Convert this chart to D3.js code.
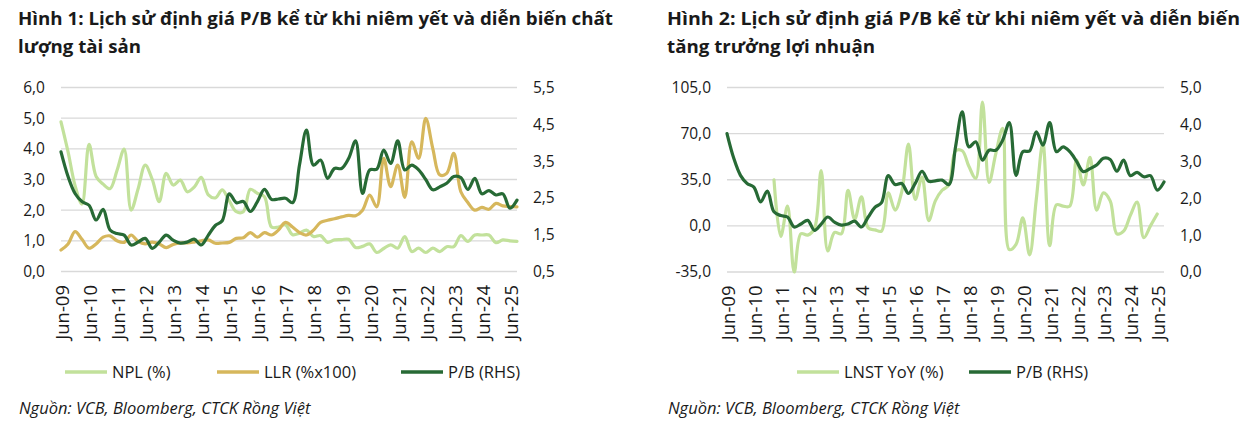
<!DOCTYPE html>
<html>
<head>
<meta charset="utf-8">
<script src="https://cdn.jsdelivr.net/npm/d3@7"></script>
<style>
  body { margin: 0; background: #fff; }
  svg { display: block; }
  text { font-family: "Open Sans", "Noto Sans", sans-serif; fill: #1a1a1a; }
</style>
</head>
<body>
<svg width="1246" height="438"></svg>
<script>
// quarterly observations, Jun-09 .. Sep-25
var quarters = d3.range(66).map(function(i) { return new Date(2009, 5 + 3 * i, 1); });
var yearTicks = d3.range(2009, 2026).map(function(y) { return new Date(y, 5, 1); });

var npl = [4.88, 3.9, 2.8, 2.2, 4.15, 3.1, 2.85, 2.7, 3.3, 3.99, 2.0, 2.7, 3.47, 3.0, 2.28, 3.2,
  2.82, 2.98, 2.6, 2.75, 3.07, 2.5, 2.4, 2.66, 2.3, 1.95, 1.95, 2.68, 2.55, 2.44, 1.45, 1.45,
  1.52, 1.2, 1.25, 1.35, 1.14, 1.17, 0.95, 1.03, 1.04, 1.05, 0.78, 0.82, 0.9, 0.62, 0.75, 0.87,
  0.76, 1.14, 0.65, 0.76, 0.62, 0.76, 0.65, 0.81, 0.81, 1.17, 0.98, 1.19, 1.19, 1.19, 0.94, 1.03,
  1.0, 0.98];

var llr = [0.7, 0.9, 1.3, 1.05, 0.76, 0.9, 1.12, 1.16, 1.0, 0.95, 1.19, 0.98, 0.9, 0.96, 0.9, 0.78,
  0.88, 0.93, 0.93, 0.96, 1.0, 1.03, 0.92, 0.93, 0.95, 1.08, 1.1, 1.27, 1.12, 1.27, 1.19, 1.35,
  1.6, 1.45, 1.27, 1.19, 1.35, 1.6, 1.67, 1.72, 1.78, 1.83, 1.82, 2.0, 2.49, 2.11, 3.69, 2.77,
  3.47, 2.42, 4.23, 3.69, 4.99, 4.01, 3.15, 3.2, 3.85, 2.6, 2.25, 2.0, 2.09, 2.03, 2.22, 2.14,
  2.12, 2.11];

var pb = [3.75, 3.08, 2.62, 2.4, 2.3, 1.9, 2.19, 1.63, 1.53, 1.49, 1.22, 1.3, 1.4, 1.13, 1.3, 1.49,
  1.35, 1.27, 1.3, 1.38, 1.22, 1.49, 1.75, 1.88, 2.61, 2.37, 2.4, 2.13, 2.4, 2.73, 2.46, 2.47,
  2.49, 2.37, 3.4, 4.34, 3.39, 3.53, 3.03, 3.3, 3.3, 3.57, 4.05, 2.62, 3.26, 3.28, 3.8, 3.44,
  4.05, 3.26, 3.39, 3.26, 3.0, 2.72, 2.8, 2.9, 3.08, 3.05, 2.73, 3.03, 2.61, 2.7, 2.58, 2.61,
  2.22, 2.44];

var lnst = [null, null, null, null, null, null, null, 35, -8, 15, -35, -6, -7, -2, 42, -19,
  -5, -6, 27, 5, 22, -1.5, -3, -4, 25, 12, 26, 62, 20, 37, 4, 19,
  27, 31, 57, 57, 45, 36, 94, 33, 55, 74, -18, -14, 6, -22, 20, 63,
  -15, 16, 15, 15, 50, 31, 52, 12, 25, 19, -6, -4, 8, 18, -9, 0,
  9, null];

var colNpl = "#c2e19b", colLlr = "#d6b75c", colPb = "#276a35";
var svg = d3.select("svg");
var fmt = function(v) { return v.toFixed(1).replace(".", ","); };

function panel(cfg) {
  var x = d3.scaleTime().domain([quarters[0], quarters[quarters.length - 1]]).range([cfg.left, cfg.right]);
  var yL = d3.scaleLinear().domain(cfg.lDomain).range([cfg.bottom, cfg.top]);
  var yR = d3.scaleLinear().domain(cfg.rDomain).range([cfg.bottom, cfg.top]);
  var g = svg.append("g");

  // titles
  cfg.title.forEach(function(t, i) {
    g.append("text")
      .attr("x", cfg.titleX).attr("y", 24.5 + i * 28.5)
      .attr("textLength", t.w).attr("lengthAdjust", "spacingAndGlyphs")
      .style("font-weight", "bold").style("font-size", "18.5px")
      .text(t.s);
  });

  // gridlines
  g.append("g").selectAll("line").data(cfg.lTicks).join("line")
    .attr("x1", cfg.left).attr("x2", cfg.right)
    .attr("y1", function(d) { return yL(d); }).attr("y2", function(d) { return yL(d); })
    .attr("stroke", "#d9d9d9").attr("stroke-width", 1.4);

  var ax = g.append("g").attr("transform", "translate(" + (cfg.left - 16) + ",0)")
    .call(d3.axisLeft(yL).tickValues(cfg.lTicks).tickSize(0).tickPadding(0).tickFormat(fmt));
  var axR = g.append("g").attr("transform", "translate(" + (cfg.right + 16) + ",0)")
    .call(d3.axisRight(yR).tickValues(cfg.rTicks).tickSize(0).tickPadding(0).tickFormat(fmt));
  var axX = g.append("g").attr("transform", "translate(0," + (cfg.bottom + 13.5) + ")")
    .call(d3.axisBottom(x).tickValues(yearTicks).tickSize(0).tickFormat(d3.timeFormat("%b-%y")));
  [ax, axR, axX].forEach(function(a) {
    a.select(".domain").remove();
    a.selectAll("text").style("font-size", "15.5px").attr("fill", "#1a1a1a");
  });
  axX.selectAll("text")
    .style("font-size", "18.5px")
    .attr("transform", "rotate(-90)")
    .attr("x", 0).attr("y", 1).attr("dx", 0).attr("dy", "0.35em")
    .style("text-anchor", "end");

  // series
  cfg.series.forEach(function(s) {
    var sc = s.axis === "R" ? yR : yL;
    var line = d3.line()
      .defined(function(d) { return d != null; })
      .x(function(d, i) { return x(quarters[i]); })
      .y(function(d) { return sc(d); })
      .curve(d3.curveCatmullRom.alpha(0.5));
    g.append("path")
      .attr("fill", "none")
      .attr("stroke", s.color)
      .attr("stroke-width", 3.2)
      .attr("stroke-linejoin", "round")
      .attr("stroke-linecap", "round")
      .attr("d", line(s.values));
  });

  // legend
  cfg.series.forEach(function(s) {
    g.append("line")
      .attr("x1", s.lx).attr("x2", s.lx + 42).attr("y1", 372).attr("y2", 372)
      .attr("stroke", s.color).attr("stroke-width", 3.5);
    g.append("text")
      .attr("x", s.lx + 47).attr("y", 372).attr("dy", "0.35em")
      .style("font-size", "16.5px")
      .text(s.name);
  });

  g.append("text")
    .attr("x", cfg.titleX + 1).attr("y", 414)
    .style("font-style", "italic").style("font-size", "16.5px")
    .text("Nguồn: VCB, Bloomberg, CTCK Rồng Việt");
}

panel({
  left: 61, right: 517, top: 87.5, bottom: 271.5, titleX: 18,
  title: [{ s: "Hình 1: Lịch sử định giá P/B kể từ khi niêm yết và diễn biến chất", w: 595 },
          { s: "lượng tài sản", w: 123 }],
  lDomain: [0, 6], lTicks: [0, 1, 2, 3, 4, 5, 6],
  rDomain: [0.5, 5.5], rTicks: [0.5, 1.5, 2.5, 3.5, 4.5, 5.5],
  series: [
    { name: "NPL (%)", values: npl, color: colNpl, axis: "L", lx: 65 },
    { name: "LLR (%x100)", values: llr, color: colLlr, axis: "L", lx: 217 },
    { name: "P/B (RHS)", values: pb, color: colPb, axis: "R", lx: 401 }
  ]
});

panel({
  left: 727, right: 1164, top: 87.5, bottom: 272, titleX: 667,
  title: [{ s: "Hình 2: Lịch sử định giá P/B kể từ khi niêm yết và diễn biến", w: 573 },
          { s: "tăng trưởng lợi nhuận", w: 208 }],
  lDomain: [-35, 105], lTicks: [-35, 0, 35, 70, 105],
  rDomain: [0, 5], rTicks: [0, 1, 2, 3, 4, 5],
  series: [
    { name: "LNST YoY (%)", values: lnst, color: colNpl, axis: "L", lx: 797 },
    { name: "P/B (RHS)", values: pb, color: colPb, axis: "R", lx: 969 }
  ]
});
</script>
</body>
</html>
